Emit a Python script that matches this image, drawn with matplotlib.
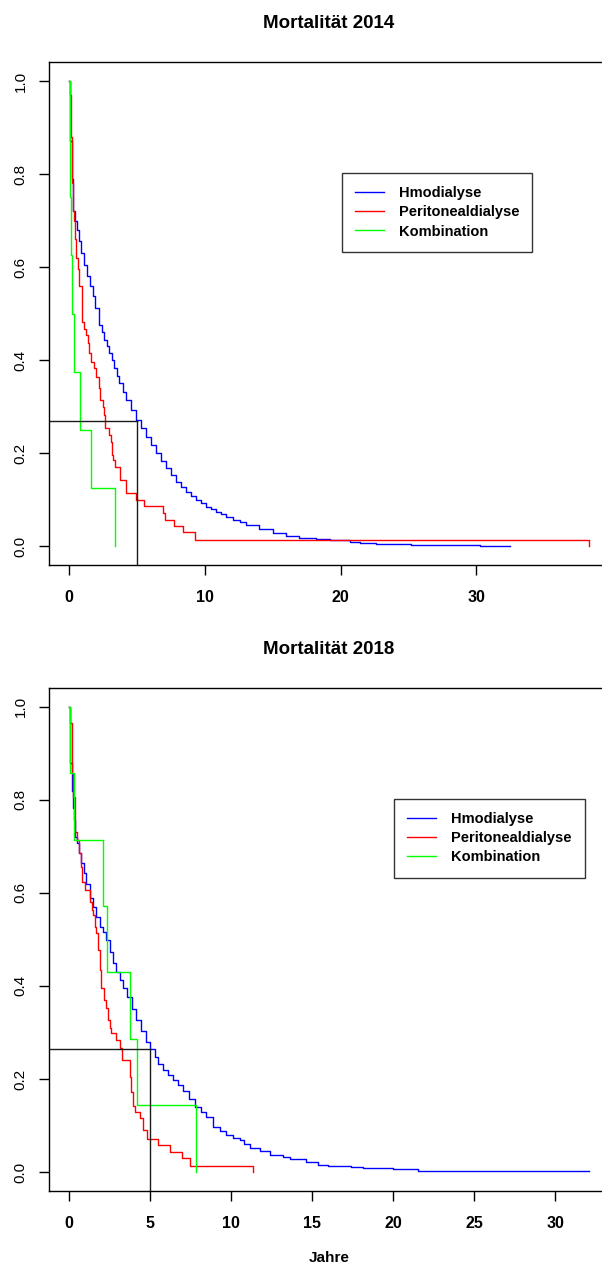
import matplotlib
matplotlib.use("Agg")
import matplotlib.pyplot as plt

plt.rcParams['font.family'] = ['Liberation Sans', 'DejaVu Sans']

# ---- Mortalität 2014 ----
t14_hd = [0, 0.02, 0.05, 0.17, 0.27, 0.30, 0.42, 0.54, 0.69, 0.86, 1.10, 1.30, 1.53, 1.72, 1.92,
          2.21, 2.40, 2.58, 2.77, 2.95, 3.13, 3.32, 3.50, 3.69, 3.93, 4.18, 4.55, 4.92, 5.30, 5.66,
          6.03, 6.40, 6.77, 7.14, 7.50, 7.87, 8.24, 8.61, 8.98, 9.35, 9.72, 10.09, 10.46,
          10.83, 11.20, 11.56, 12.05, 12.55, 13.04, 14.02, 15.0, 16.0, 16.97, 18.2, 19.19, 20.66,
          21.4, 22.6, 25.2, 30.26, 32.5]
s14_hd = [1.0, 0.97, 0.87, 0.79, 0.755, 0.72, 0.70, 0.68, 0.655, 0.63, 0.605, 0.58, 0.56, 0.537, 0.512,
          0.475, 0.46, 0.443, 0.43, 0.415, 0.40, 0.383, 0.366, 0.35, 0.332, 0.314, 0.292, 0.271, 0.253, 0.235,
          0.217, 0.199, 0.183, 0.167, 0.152, 0.138, 0.127, 0.117, 0.108, 0.099, 0.092, 0.085, 0.079,
          0.074, 0.068, 0.063, 0.057, 0.052, 0.045, 0.037, 0.027, 0.022, 0.018, 0.015, 0.012, 0.009,
          0.007, 0.005, 0.002, 0.0, 0.0]
t14_pd = [0, 0.02, 0.10, 0.20, 0.25, 0.32, 0.39, 0.49, 0.64, 0.74, 0.91, 0.96, 1.06, 1.23, 1.35, 1.48,
          1.60, 1.85, 2.0, 2.17, 2.29, 2.46, 2.58, 2.66, 2.95, 3.07, 3.15, 3.25, 3.37, 3.76, 4.18,
          4.92, 5.53, 6.89, 7.08, 7.75, 8.41, 9.27, 38.3]
s14_pd = [1.0, 0.97, 0.88, 0.78, 0.72, 0.70, 0.66, 0.62, 0.595, 0.56, 0.53, 0.482, 0.467, 0.454, 0.436, 0.415,
          0.396, 0.383, 0.364, 0.339, 0.314, 0.30, 0.282, 0.253, 0.239, 0.224, 0.196, 0.185, 0.169, 0.142, 0.115,
          0.099, 0.086, 0.072, 0.057, 0.043, 0.031, 0.014, 0.0]
t14_kb = [0, 0.05, 0.08, 0.12, 0.20, 0.35, 0.79, 1.62, 3.35]
s14_kb = [1.0, 0.875, 0.75, 0.625, 0.5, 0.375, 0.25, 0.125, 0.0]
s5_14 = 0.269

# ---- Mortalität 2018 ----
t18_hd = [0, 0.02, 0.07, 0.17, 0.23, 0.27, 0.35, 0.48, 0.60, 0.75, 0.89, 1.05, 1.26, 1.46, 1.67, 1.88,
          2.08, 2.29, 2.50, 2.70, 2.90, 3.11, 3.33, 3.56, 3.85, 4.14, 4.45, 4.76, 4.98, 5.27, 5.50, 5.78,
          6.10, 6.40, 6.70, 7.01, 7.40, 7.74, 8.10, 8.46, 8.87, 9.30, 9.69, 10.10, 10.51, 10.80,
          11.13, 11.75, 12.36, 13.18, 13.6, 14.6, 15.34, 15.96, 17.4, 18.12, 19.97, 21.5, 26.04, 32.06]
s18_hd = [1.0, 0.965, 0.88, 0.82, 0.783, 0.757, 0.72, 0.707, 0.686, 0.664, 0.643, 0.62, 0.59, 0.57, 0.548, 0.527,
          0.515, 0.499, 0.472, 0.449, 0.43, 0.413, 0.395, 0.377, 0.35, 0.327, 0.303, 0.28, 0.264, 0.248, 0.233, 0.219,
          0.208, 0.198, 0.186, 0.173, 0.157, 0.14, 0.129, 0.119, 0.097, 0.088, 0.08, 0.074, 0.069, 0.06,
          0.051, 0.044, 0.037, 0.033, 0.027, 0.022, 0.015, 0.013, 0.010, 0.008, 0.006, 0.003, 0.001, 0.001]
t18_pd = [0, 0.02, 0.17, 0.25, 0.37, 0.50, 0.60, 0.75, 0.81, 0.99, 1.26, 1.40, 1.46, 1.57, 1.67, 1.77,
          1.88, 1.98, 2.12, 2.29, 2.39, 2.49, 2.60, 2.90, 3.10, 3.27, 3.73, 3.83, 3.93, 4.08, 4.34,
          4.55, 4.80, 5.47, 6.24, 6.98, 7.43, 11.33]
s18_pd = [1.0, 0.965, 0.858, 0.806, 0.731, 0.714, 0.686, 0.656, 0.624, 0.606, 0.58, 0.563, 0.553, 0.527, 0.514, 0.477,
          0.434, 0.395, 0.37, 0.353, 0.327, 0.31, 0.299, 0.284, 0.267, 0.241, 0.204, 0.172, 0.142, 0.129, 0.116,
          0.09, 0.071, 0.058, 0.042, 0.029, 0.0136, 0.0]
t18_kb = [0, 0.05, 0.30, 2.08, 2.35, 3.75, 4.18, 7.82]
s18_kb = [1.0, 0.857, 0.714, 0.571, 0.429, 0.286, 0.143, 0.0]
s5_18 = 0.264

labels = ['Hmodialyse', 'Peritonealdialyse', 'Kombination']
colors = ['#0000FF', '#FF0000', '#00FF00']
yticks = [0.0, 0.2, 0.4, 0.6, 0.8, 1.0]

fig = plt.figure(figsize=(6.02, 12.66), dpi=100)


def km_panel(rect, curves, s5, title, xticks, legend_x, xlabel=None):
    ax = fig.add_axes(rect)
    for (t, s), c, lab in zip(curves, colors, labels):
        ax.step(t, s, where='post', color=c, lw=1.0, label=lab)
    xmax = max(max(t) for t, s in curves)
    lo, hi = -0.04 * xmax, 1.04 * xmax
    # 5-Jahres-Markierung
    ax.plot([lo, 5], [s5, s5], color='#1a1a1a', lw=1.0)
    ax.plot([5, 5], [-0.04, s5], color='#1a1a1a', lw=1.0)
    ax.set_xlim(lo, hi)
    ax.set_ylim(-0.04, 1.04)
    ax.set_xticks(xticks)
    ax.set_xticklabels([str(v) for v in xticks], fontweight='bold', fontsize=11.5)
    ax.set_yticks(yticks)
    ax.set_yticklabels(['%.1f' % v for v in yticks], rotation=90, va='center', fontsize=11)
    ax.tick_params(axis='x', length=7, width=1, pad=11)
    ax.tick_params(axis='y', length=7, width=1, pad=8)
    for sp in ax.spines.values():
        sp.set_linewidth(1.0)
    ax.set_title(title, fontweight='bold', fontsize=13.5, pad=25)
    if xlabel:
        ax.set_xlabel(xlabel, fontweight='bold', fontsize=11, labelpad=15)
    leg = ax.legend(loc='upper left', bbox_to_anchor=(legend_x, 0.78), borderaxespad=0,
                    fancybox=False, framealpha=1, edgecolor='#333333',
                    prop={'weight': 'bold', 'size': 10.5}, handlelength=2.0,
                    handletextpad=1.0, labelspacing=0.36, borderpad=0.9)
    leg.get_frame().set_linewidth(1.0)
    return ax


km_panel([0.0806, 0.554, 0.932, 0.3967],
         [(t14_hd, s14_hd), (t14_pd, s14_pd), (t14_kb, s14_kb)],
         s5_14, 'Mortalität 2014', [0, 10, 20, 30], 0.523)
km_panel([0.0806, 0.0596, 0.932, 0.3967],
         [(t18_hd, s18_hd), (t18_pd, s18_pd), (t18_kb, s18_kb)],
         s5_18, 'Mortalität 2018', [0, 5, 10, 15, 20, 25, 30], 0.616, xlabel='Jahre')

fig.savefig('out.png', dpi=100)
